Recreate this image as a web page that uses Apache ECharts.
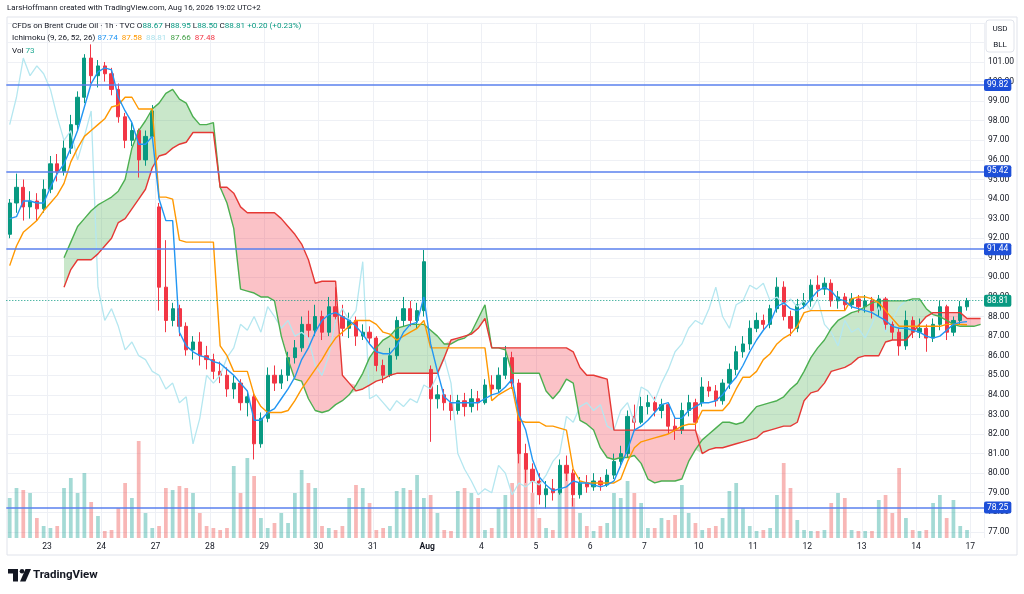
<!DOCTYPE html>
<html><head><meta charset="utf-8">
<script src="https://cdn.jsdelivr.net/npm/echarts@6/dist/echarts.min.js"></script>
<style>html,body{margin:0;padding:0;background:#fff;}#c{width:1024px;height:594px;}</style>
</head><body><div id="c"></div>
<script>
// ---------- data ----------
const dayLabels = ['23','24','27','28','29','30','31','Aug','4','5','6','7','10','11','12','13','14','17'];
const firstDayIndex = 6;
const barsPerDay = 8;
const totalSlots = 144;

// candles: [open, close, low, high]
const candles = [
// Jul 22
[92.2,93.8,92.0,94.0],[93.8,94.6,93.3,95.3],[94.6,93.6,92.9,95.0],[93.6,93.9,93.0,94.4],[93.9,93.5,92.9,94.3],[93.5,94.5,93.3,95.0],
// Jul 23
[94.5,95.8,94.3,96.2],[95.8,95.4,94.9,96.3],[95.4,96.6,95.2,97.0],[96.6,97.8,96.3,98.3],[97.8,99.2,97.5,99.5],[99.2,101.2,98.9,101.4],[101.2,100.3,99.9,101.9],[100.3,100.8,99.7,101.1],
// Jul 24
[100.8,100.4,100.0,101.0],[100.4,99.6,99.3,100.7],[99.6,98.2,97.9,99.9],[98.2,97.0,96.6,98.4],[97.0,97.5,96.7,97.9],[97.5,96.0,95.1,97.6],[96.0,97.2,95.7,97.5],[97.2,98.5,97.0,98.8],
// Jul 27
[93.6,89.5,88.3,93.8],[89.5,87.8,87.2,91.9],[87.8,88.4,87.5,88.7],[88.4,87.5,87.0,88.6],[87.5,86.3,86.0,87.7],[86.3,86.7,85.8,87.0],[86.7,86.0,85.5,87.2],[86.0,85.8,85.3,86.5],
// Jul 28
[85.8,85.2,84.8,86.1],[85.2,85.0,84.6,85.7],[85.0,84.3,83.9,85.4],[84.3,84.6,83.8,85.0],[84.6,83.6,83.2,84.8],[83.6,83.9,82.9,84.2],[83.9,81.5,80.7,84.1],[81.5,82.8,81.3,83.1],
// Jul 29
[82.8,85.0,82.6,85.4],[85.0,84.6,84.2,85.5],[84.6,85.0,84.3,85.3],[85.0,85.9,84.7,86.2],[85.9,86.4,85.6,86.8],[86.4,87.6,86.2,88.0],[87.6,87.3,86.9,88.3],[87.3,88.0,87.0,88.6],
// Jul 30
[88.0,87.2,86.8,88.3],[87.2,88.5,87.0,89.0],[88.5,88.0,87.7,89.5],[88.0,87.4,87.0,88.6],[87.4,87.8,86.9,88.2],[87.8,87.0,86.5,88.0],[87.0,87.2,86.8,87.6],[87.2,86.9,86.6,87.5],
// Jul 31
[86.9,85.5,85.2,87.0],[85.5,85.0,84.6,85.8],[85.0,86.0,84.9,86.4],[86.0,87.8,85.8,88.0],[87.8,88.4,87.5,89.0],[88.4,87.8,87.5,88.8],[87.8,88.3,87.4,88.7],[88.3,90.8,88.0,91.4],
// Aug 3
[85.3,83.8,81.6,85.5],[83.8,84.0,83.3,84.5],[84.0,83.6,83.2,84.3],[83.6,83.2,82.7,84.0],[83.2,83.7,83.0,84.0],[83.7,83.4,82.9,84.1],[83.4,83.8,83.1,84.3],[83.8,83.6,83.2,84.2],
// Aug 4
[83.6,84.5,83.5,84.8],[84.5,84.3,84.0,85.0],[84.3,85.0,84.1,85.4],[85.0,85.9,84.8,86.5],[85.9,84.6,84.3,86.2],[84.6,81.0,80.5,84.8],[81.0,80.2,79.5,81.5],[80.2,79.6,79.0,80.5],
// Aug 5
[79.6,78.9,78.4,80.0],[78.9,79.2,78.2,79.6],[79.2,79.0,78.6,79.7],[79.0,80.4,78.9,80.7],[80.4,80.0,79.6,80.9],[80.0,78.9,78.3,80.2],[78.9,79.5,78.7,79.8],[79.5,79.3,79.0,79.9],
// Aug 6
[79.3,79.6,79.1,80.0],[79.6,79.4,79.1,79.8],[79.4,79.9,79.3,80.2],[79.9,80.6,79.7,81.0],[80.6,81.0,80.3,81.4],[81.0,82.9,80.8,83.2],[82.9,82.6,82.2,83.5],[82.6,83.4,82.5,83.9],
// Aug 7
[83.4,83.6,83.0,84.0],[83.6,83.2,82.9,83.9],[83.2,83.5,82.8,83.8],[83.5,82.4,82.0,83.6],[82.4,82.2,81.7,82.8],[82.2,83.2,82.0,83.6],[83.2,83.6,82.9,84.0],[83.6,82.6,82.2,83.8],
// Aug 10
[83.6,84.4,83.4,84.9],[84.4,84.2,83.9,84.7],[84.2,83.7,83.4,84.5],[83.7,84.6,83.5,84.8],[84.6,85.3,84.3,85.6],[85.3,86.2,85.0,86.5],[86.2,86.6,85.9,87.0],[86.6,87.4,86.3,87.8],
// Aug 11
[87.4,87.8,87.2,88.2],[87.8,87.6,87.3,88.1],[87.6,88.4,87.4,88.6],[88.4,89.5,88.2,90.0],[89.5,88.0,87.8,89.8],[88.0,87.4,87.0,88.3],[87.4,88.6,87.2,88.9],[88.6,88.8,88.4,89.2],
// Aug 12
[88.8,89.6,88.5,89.9],[89.6,89.4,89.0,90.1],[89.4,89.7,89.1,90.0],[89.7,88.8,88.5,89.9],[88.8,89.0,88.4,89.3],[89.0,88.6,88.3,89.2],[88.6,88.9,88.4,89.2],[88.9,88.5,88.2,89.1],
// Aug 13
[88.5,88.8,88.2,89.1],[88.8,88.3,87.9,89.0],[88.3,88.9,88.0,89.1],[88.9,87.6,87.3,89.0],[87.6,87.2,86.8,87.8],[87.2,86.5,86.0,87.4],[86.5,87.8,86.3,88.3],[87.8,87.2,86.9,88.0],
// Aug 14
[87.2,87.4,86.9,87.9],[87.4,86.9,86.2,87.6],[86.9,87.6,86.7,87.9],[87.6,88.5,87.3,88.8],[88.5,87.2,86.8,88.6],[87.2,87.8,87.0,88.0],[87.8,88.5,87.6,88.8],[88.5,88.81,88.3,88.95]
];

const volumes = [
40,50,48,45,20,12,
10,12,50,60,45,65,36,22,
7,8,30,55,40,97,25,10,
12,50,48,52,50,45,25,12,
10,8,10,72,45,80,62,20,
10,15,25,15,45,68,55,50,
12,10,8,12,40,53,50,35,
8,10,12,47,50,48,63,40,
43,25,8,7,47,50,45,40,
8,10,30,43,55,100,85,45,
20,10,8,50,65,40,25,12,
7,12,15,45,40,57,45,35,
10,10,20,18,23,53,25,15,
8,10,12,20,47,55,30,12,
7,8,10,43,75,50,18,8,
7,7,8,35,45,40,8,7,
7,7,38,43,25,70,20,8,
7,8,35,43,20,38,12,8
];

// Ichimoku conversion line (blue)
const tenkan = [
93.0,93.1,93.9,93.9,93.8,93.8,
94.6,95.3,95.8,96.6,97.5,98.7,99.9,100.5,
100.7,100.6,99.2,98.5,97.9,96.8,96.8,97.2,
94.0,92.9,92.9,87.2,86.5,86.2,86.0,85.9,
85.7,85.6,85.3,85.0,84.6,84.2,82.7,82.7,
83.1,83.3,83.8,84.3,84.9,85.8,86.4,87.2,
87.8,88.1,88.2,88.0,87.8,87.5,87.1,86.6,
86.2,86.1,86.1,86.5,87.2,87.6,87.7,89.0,
86.6,85.2,83.9,83.6,83.6,83.6,83.6,83.6,
83.8,84.0,84.1,84.4,84.8,83.0,82.2,80.7,
79.8,79.4,79.1,79.2,79.3,79.6,79.5,79.5,
79.4,79.3,79.4,79.6,80.4,81.2,82.2,82.4,
82.7,83.1,83.5,83.6,82.8,82.8,83.2,83.4,
83.6,83.6,83.7,84.0,84.5,84.9,85.5,86.2,
86.8,87.3,87.7,88.5,88.7,88.4,88.3,88.5,
88.9,89.3,89.5,89.3,88.9,88.8,88.5,88.4,
88.3,88.2,88.0,87.8,87.5,87.4,87.4,87.3,
87.2,87.0,86.9,87.0,87.3,87.6,87.7,87.74
];

// Ichimoku base line (orange)
const kijun = [
90.6,91.6,92.3,92.6,92.9,93.4,
93.8,94.2,94.8,95.9,96.6,97.2,97.5,97.8,
98.1,98.7,98.8,99.2,99.2,98.6,98.6,98.6,
94.1,94.1,94.0,91.9,91.8,91.8,91.8,91.8,
91.8,86.5,86.0,85.2,85.2,85.2,84.0,83.4,
83.1,83.1,83.1,83.2,83.7,84.3,84.8,85.3,
85.8,86.4,86.9,87.2,87.5,87.8,87.8,87.8,
87.6,87.2,87.1,86.8,87.0,87.2,87.4,87.8,
86.4,86.4,86.4,86.4,86.4,86.4,86.4,86.4,
86.4,83.7,84.0,84.2,84.4,82.7,82.6,82.6,
82.6,82.4,82.4,82.3,82.2,80.2,79.6,79.5,
79.5,79.5,79.5,79.5,79.7,80.6,81.3,81.6,
81.7,81.8,81.9,82.0,82.2,82.4,82.5,82.5,
83.2,83.2,83.2,83.2,83.6,84.3,84.9,84.9,
85.2,85.8,86.1,86.6,86.9,87.1,87.5,88.2,
88.3,88.3,88.3,88.3,88.3,88.3,88.9,89.0,
89.0,88.9,88.7,88.3,87.9,87.5,87.5,87.5,
87.5,87.5,87.5,87.5,87.6,87.6,87.6,87.58
];

// Leading spans (plotted from slot 8 on, already displaced forward)
const spanStart = 8;
const spanA = [
91.0,91.8,92.6,93.0,93.4,93.7,
93.9,94.1,94.4,95.0,96.6,97.5,98.0,98.6,
98.9,99.4,99.6,99.1,98.9,98.2,97.8,97.8,
97.9,94.6,93.8,92.5,89.4,89.3,89.2,89.0,
89.0,88.8,87.0,85.8,84.8,84.7,83.8,83.2,
83.1,83.2,83.5,83.7,84.0,84.5,85.1,85.9,
86.4,86.8,87.0,87.4,87.5,87.6,87.6,87.6,
87.3,87.0,86.6,86.6,86.8,86.9,87.2,87.9,
88.6,86.4,86.4,86.3,85.1,85.1,85.1,85.1,
85.1,84.2,83.8,84.2,84.8,84.6,82.7,82.5,
82.2,81.3,80.8,80.7,80.8,80.8,80.9,80.5,
79.7,79.5,79.6,79.6,79.6,79.7,80.6,81.2,
81.7,82.0,82.3,82.6,82.6,82.5,82.6,83.0,
83.4,83.5,83.6,83.7,83.9,84.3,84.6,85.2,
85.9,86.4,86.8,87.4,87.8,88.0,88.2,88.3,
88.5,88.7,88.8,88.8,88.8,88.8,88.8,88.9,
88.9,88.4,88.1,88.0,87.8,87.6,87.5,87.5,
87.5,87.6
];
const spanB = [
89.5,90.4,90.9,90.9,90.9,91.2,
91.6,92.0,92.8,93.0,93.5,94.0,94.5,95.6,
96.2,96.3,96.6,96.8,96.9,97.4,97.4,97.4,
97.4,94.6,94.6,94.3,93.6,93.3,93.3,93.3,
93.3,93.3,93.0,92.6,92.2,91.7,90.9,89.7,
89.8,89.8,89.8,85.0,84.6,84.2,84.3,84.5,
84.7,84.8,85.0,85.1,85.1,85.1,85.1,85.1,
85.1,85.1,85.9,86.8,86.9,87.0,87.1,87.4,
87.9,86.4,86.4,86.4,86.4,86.4,86.4,86.4,
86.4,86.4,86.4,86.4,86.4,86.2,85.4,85.0,
85.0,84.9,84.8,82.2,82.2,82.2,82.2,82.2,
82.2,82.2,82.2,82.2,82.2,82.2,82.2,82.2,
81.0,81.2,81.3,81.3,81.4,81.5,81.6,81.7,
81.8,82.1,82.2,82.3,82.4,82.4,82.6,83.7,
84.1,84.2,84.6,85.2,85.3,85.4,85.6,85.9,
86.0,86.0,86.0,86.7,86.8,86.8,86.8,87.2,
87.6,88.0,88.2,88.2,88.2,88.2,88.2,87.9,
87.9,87.9
];
const chikouShift = 9;          // lagging span drawn 26 hours (~9 slots) back
const priceLines = [99.82, 95.42, 91.44, 78.25];
const lastPrice = 88.81;
const yTicks = {min: 77, max: 103, step: 1, lastShown: 101};

// ---------- chart ----------
const ff = 'Roboto, "Liberation Sans", Arial, sans-serif';
const cats = Array.from({length: totalSlots}, (_, i) => String(i));
const dayAt = {};
dayLabels.forEach((l, k) => { dayAt[firstDayIndex + k * barsPerDay] = l; });
const padSpan = arr => { const o = new Array(totalSlots).fill(null); arr.forEach((v, k) => { o[spanStart + k] = v; }); return o; };
const A = padSpan(spanA), B = padSpan(spanB);
const has = i => A[i] != null && B[i] != null;
const cloudBase = A.map((a, i) => has(i) ? Math.min(a, B[i]) : null);
const cloudGreen = A.map((a, i) => has(i) ? Math.max(a - B[i], 0) : null);
const cloudRed = A.map((a, i) => has(i) ? Math.max(B[i] - a, 0) : null);
const chikou = cats.map((_, i) => (i + chikouShift < candles.length) ? candles[i + chikouShift][1] : null);
const volData = volumes.map((v, i) => ({value: v, itemStyle: {color: candles[i][1] >= candles[i][0] ? 'rgba(38,166,154,0.42)' : 'rgba(239,83,80,0.42)'}}));

const chart = echarts.init(document.getElementById('c'), null, {renderer: 'canvas'});
const lineS = (name, data, color, z, w) => ({
  name, type: 'line', data, xAxisIndex: 0, yAxisIndex: 0, symbol: 'none', showSymbol: false,
  lineStyle: {color, width: w || 1.4}, z: z || 3, silent: true, animation: false
});
const LEVEL_BLUE = '#5a80ee';
const markLabel = {show: true, position: 'end', distance: 0, color: '#ffffff', fontSize: 8.5, fontFamily: ff,
                   padding: [2, 3, 1, 3], borderRadius: 2};

const xBase = (gridIndex, showLabels) => ({
  type: 'category', gridIndex, data: cats, boundaryGap: true,
  axisLine: {show: false}, axisTick: {show: false},
  splitLine: {show: true, interval: (i) => dayAt[i] !== undefined, lineStyle: {color: '#eef0f5', width: 1}},
  axisLabel: showLabels ? {
    show: true, interval: (i) => dayAt[i] !== undefined,
    formatter: (v, i) => dayAt[i] === 'Aug' ? '{b|Aug}' : (dayAt[i] || ''),
    rich: {b: {fontWeight: 'bold', fontSize: 8.5, fontFamily: ff, color: '#131722'}},
    fontSize: 8.5, fontFamily: ff, color: '#131722', margin: 4, padding: [0, 7, 0, 0]
  } : {show: false}
});

const option = {
  animation: false,
  backgroundColor: '#ffffff',
  grid: [
    {left: 6.3, right: 40, top: 22.84, bottom: 62.1},
    {left: 6.3, right: 40, top: 438, bottom: 56}
  ],
  xAxis: [xBase(0, false), xBase(1, true)],
  yAxis: [
    {type: 'value', gridIndex: 0, position: 'right', min: yTicks.min, max: yTicks.max, interval: yTicks.step,
     axisLine: {show: false}, axisTick: {show: false},
     axisLabel: {fontSize: 8.5, fontFamily: ff, color: '#131722', margin: 4,
       formatter: v => v > yTicks.lastShown + 0.01 ? '' : v.toFixed(2)},
     splitLine: {lineStyle: {color: '#eef0f5', width: 1}}},
    {type: 'value', gridIndex: 1, min: 0, max: 100, show: false, splitLine: {show: false}}
  ],
  series: [
    {type: 'bar', name: 'vol', xAxisIndex: 1, yAxisIndex: 1, data: volData, barWidth: '55%', silent: true, z: 1},
    {type: 'line', name: 'cloudBase', data: cloudBase, stack: 'cloud', symbol: 'none', lineStyle: {opacity: 0}, silent: true, z: 1},
    {type: 'line', name: 'cloudGreen', data: cloudGreen, stack: 'cloud', symbol: 'none', lineStyle: {opacity: 0},
     areaStyle: {color: 'rgba(76,175,80,0.30)', opacity: 1}, silent: true, z: 1},
    {type: 'line', name: 'cloudRed', data: cloudRed, stack: 'cloud', symbol: 'none', lineStyle: {opacity: 0},
     areaStyle: {color: 'rgba(242,54,69,0.30)', opacity: 1}, silent: true, z: 1},
    {type: 'candlestick', name: 'price', xAxisIndex: 0, yAxisIndex: 0, data: candles, barWidth: '55%', z: 2,
     itemStyle: {color: '#089981', color0: '#f23645', borderColor: '#089981', borderColor0: '#f23645', borderWidth: 1}},
    lineS('chikou', chikou, '#b5e7f0', 3, 1.3),
    lineS('spanA', A, '#4caf50'),
    lineS('spanB', B, '#e53935'),
    lineS('kijun', kijun, '#ff9800'),
    lineS('tenkan', tenkan, '#2196f3', 4),
    // horizontal levels drawn by their own series
    {type: 'line', name: 'levels', xAxisIndex: 0, yAxisIndex: 0, data: [], color: LEVEL_BLUE, z: 5, silent: true,
     lineStyle: {color: LEVEL_BLUE},
     markLine: {silent: true, symbol: ['none', 'none'], animation: false, precision: 2,
       emphasis: {disabled: true},
       lineStyle: {color: LEVEL_BLUE, width: 1.6, type: 'solid', opacity: 1},
       label: Object.assign({}, markLabel, {backgroundColor: '#1d4fd8'}),
       data: priceLines.map(v => ({yAxis: v, label: {formatter: v.toFixed(2)}}))}},
    {type: 'line', name: 'last', xAxisIndex: 0, yAxisIndex: 0, data: [], color: '#089981', z: 5, silent: true,
     markLine: {silent: true, symbol: ['none', 'none'], animation: false, precision: 2,
       lineStyle: {color: '#089981', width: 1, type: [1, 2], opacity: 1},
       label: Object.assign({}, markLabel, {backgroundColor: '#089981'}),
       data: [{yAxis: lastPrice, label: {formatter: lastPrice.toFixed(2)}}]}}
  ],
  graphic: [
    {type: 'rect', shape: {x: 7, y: 17, width: 1010, height: 538}, style: {fill: 'none', stroke: '#e0e3eb', lineWidth: 1}, silent: true, z: 0},
    {type: 'text', x: 7, y: 8.5, style: {text: 'LarsHoffmann created with TradingView.com, Aug 16, 2026 19:02 UTC+2',
      fill: '#131722', font: '7.85px ' + ff, verticalAlign: 'middle'}},
    {type: 'text', x: 12, y: 25.5, z: 10, style: {
      text: '{t|CFDs on Brent Crude Oil · 1h · TVC} {t|O}{g|88.67} {t|H}{g|88.95} {t|L}{g|88.50} {t|C}{g|88.81} {g|+0.20 (+0.23%)}',
      verticalAlign: 'middle', font: '8.1px ' + ff,
      rich: {t: {fill: '#131722', fontSize: 8.1, fontFamily: ff}, g: {fill: '#089981', fontSize: 8.1, fontFamily: ff}}}},
    {type: 'text', x: 12, y: 38.3, z: 10, style: {
      text: '{t|Ichimoku (9, 26, 52, 26)} {b|87.74}  {o|87.58}  {c|88.81}  {gr|87.66}  {r|87.48}',
      verticalAlign: 'middle', font: '8.1px ' + ff,
      rich: {t: {fill: '#131722', fontSize: 8.1, fontFamily: ff}, b: {fill: '#2196f3', fontSize: 8.1, fontFamily: ff},
             o: {fill: '#ff9800', fontSize: 8.1, fontFamily: ff}, c: {fill: '#a9e1ec', fontSize: 8.1, fontFamily: ff},
             gr: {fill: '#43a047', fontSize: 8.1, fontFamily: ff}, r: {fill: '#f23645', fontSize: 8.1, fontFamily: ff}}}},
    {type: 'text', x: 12, y: 50.5, z: 10, style: {
      text: '{t|Vol} {g|73}', verticalAlign: 'middle', font: '8.1px ' + ff,
      rich: {t: {fill: '#131722', fontSize: 8.1, fontFamily: ff}, g: {fill: '#22ab94', fontSize: 8.1, fontFamily: ff}}}},
    {type: 'rect', shape: {x: 986, y: 20, width: 28, height: 32, r: 3}, style: {fill: '#ffffff', stroke: '#e0e3eb', lineWidth: 1}, z: 10},
    {type: 'text', x: 1000, y: 28.5, z: 11, style: {text: 'USD', fill: '#131722', font: '8px ' + ff, align: 'center', verticalAlign: 'middle'}},
    {type: 'text', x: 1000, y: 44.5, z: 11, style: {text: 'BLL', fill: '#131722', font: '8px ' + ff, align: 'center', verticalAlign: 'middle'}},
    // TradingView logo
    {type: 'rect', shape: {x: 8, y: 569, width: 10, height: 4.5}, style: {fill: '#131722'}},
    {type: 'rect', shape: {x: 13, y: 569, width: 5, height: 12.5}, style: {fill: '#131722'}},
    {type: 'circle', shape: {cx: 22, cy: 571.3, r: 2.3}, style: {fill: '#131722'}},
    {type: 'polygon', shape: {points: [[25.5, 569], [31, 569], [25.5, 581.5], [20, 581.5]]}, style: {fill: '#131722'}},
    {type: 'text', x: 33, y: 575.5, style: {text: 'TradingView', fill: '#131722', font: 'bold 11.5px ' + ff, verticalAlign: 'middle'}}
  ]
};
chart.setOption(option);
</script>
</body></html>
